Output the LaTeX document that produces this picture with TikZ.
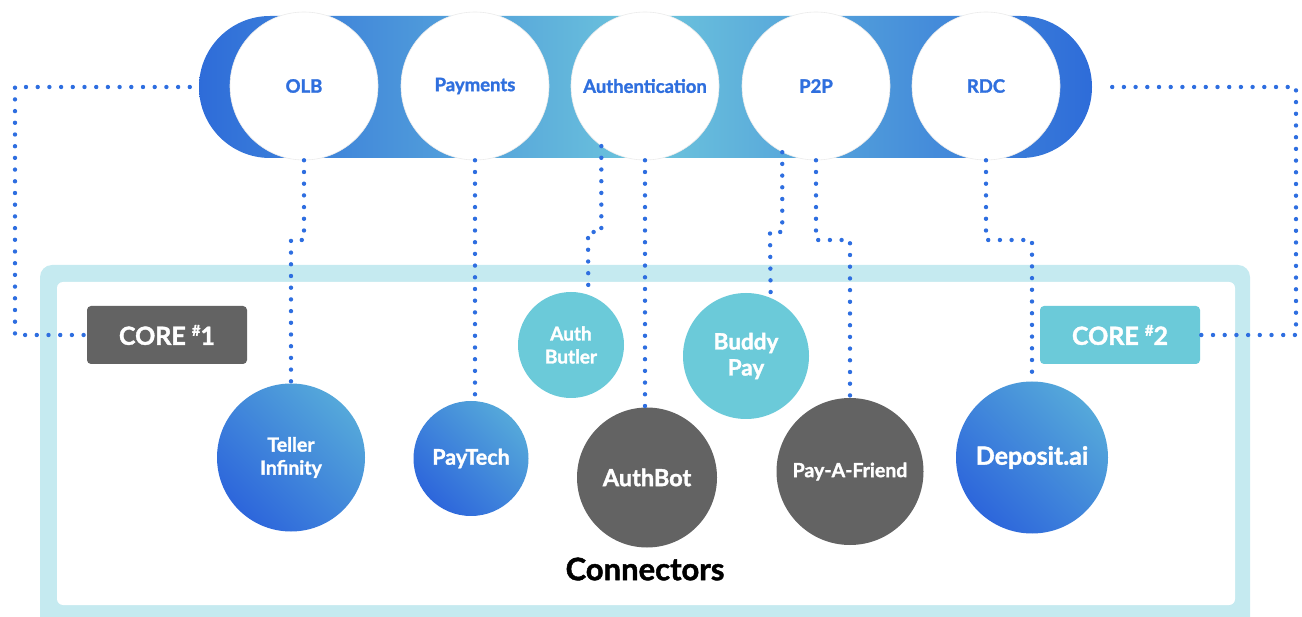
\documentclass[tikz,border=0pt]{standalone}
\usepackage{fontspec}
\setmainfont{Lato}[BoldFeatures={FakeBold=1.5}]
\definecolor{darkb}{HTML}{2E6CD9}
\definecolor{bandmid}{HTML}{6DC5DC}
\definecolor{lightb}{HTML}{55A8DA}
\definecolor{circdark}{HTML}{2D66DB}
\definecolor{cyanc}{HTML}{6BCAD9}
\definecolor{greyc}{HTML}{636363}
\definecolor{framec}{HTML}{C5EAF0}
\definecolor{dotblue}{HTML}{2E6EE0}
\definecolor{labelblue}{HTML}{2F6FDE}
\begin{document}
\begin{tikzpicture}[x=1pt,y=-1pt,
  dots/.style={draw=dotblue, line width=4.4pt, line cap=round, dash pattern=on 0pt off 11.7pt},
  band/.style={rectangle, rounded corners=71pt, minimum width=893pt, minimum height=142pt, inner sep=0pt,
    left color=darkb, right color=darkb, middle color=bandmid},
  topcirc/.style={circle, fill=white, draw=black!8, line width=0.6pt, minimum size=148pt, inner sep=0pt,
    text=labelblue, font=\bfseries\fontsize{18.5}{22}\selectfont},
  bluecirc/.style={circle, inner sep=0pt, top color=lightb, bottom color=circdark, shading angle=-45,
    text=white, align=center},
  flatcirc/.style={circle, inner sep=0pt, text=white, align=center},
  corebox/.style={rectangle, rounded corners=4pt, minimum width=160pt, minimum height=58pt, inner sep=0pt,
    text=white, font=\bfseries\fontsize{25}{28}\selectfont}
]
\useasboundingbox (0,0) rectangle (1302,617);
% frame
\fill[framec, rounded corners=12pt] (40,265) rectangle (1250,640);
\fill[white, rounded corners=6pt] (57,282) rectangle (1235,605);
% band
\node[band] (band) at (645.5,87) {};
\node[topcirc] (olb) at (304,86) {OLB};
\node[topcirc] (pay) at (475,86) {Payments};
\node[topcirc] (auth) at (645,86) {Authentication};
\node[topcirc] (p2p) at (816,86) {P2P};
\node[topcirc] (rdc) at (986,86) {RDC};
% cores
\node[corebox, fill=greyc] (core1) at (167,335) {CORE {\raisebox{0.36em}{\fontsize{15}{15}\selectfont\#}}1};
\node[corebox, fill=cyanc] (core2) at (1120,335) {CORE {\raisebox{0.36em}{\fontsize{15}{15}\selectfont\#}}2};
% connector circles
\node[bluecirc, minimum size=148pt, font=\bfseries\fontsize{19.5}{23}\selectfont] (teller) at (291,457.5) {Teller\\Infinity};
\node[bluecirc, minimum size=115pt, font=\bfseries\fontsize{21.5}{24}\selectfont] (paytech) at (471,458.5) {PayTech};
\node[flatcirc, fill=cyanc, minimum size=106pt, font=\bfseries\fontsize{19}{23}\selectfont] (butler) at (571,345) {Auth\\Butler};
\node[flatcirc, fill=greyc, minimum size=140pt, font=\bfseries\fontsize{23.5}{27}\selectfont] (authbot) at (647,477.5) {AuthBot};
\node[flatcirc, fill=cyanc, minimum size=126pt, font=\bfseries\fontsize{22.5}{26}\selectfont] (buddy) at (746,356) {Buddy\\Pay};
\node[flatcirc, fill=greyc, minimum size=147pt, font=\bfseries\fontsize{19.5}{22}\selectfont] (friend) at (850,471.5) {Pay-A-Friend};
\node[bluecirc, minimum size=152pt, font=\bfseries\fontsize{25}{28}\selectfont] (deposit) at (1032,457.5) {Deposit.ai};
\node[font=\bfseries\fontsize{31}{34}\selectfont, text=black] (title) at (645,569) {Connectors};
% bend points
\coordinate (b0) at (291,240);
\coordinate (b1) at (588,232);
\coordinate (b2) at (770,232);
\coordinate (b3) at (850,240);
\coordinate (b4) at (1032,240);
\coordinate (c1) at (15,335);
\coordinate (c2) at (1296,335);
% connectors
\draw[dots] ([xshift=-9pt]band.west) -| (c1) -- (core1.west);
\draw[dots] ([xshift=20pt]band.east) -| (c2) -- (core2.east);
\draw[dots] (olb.south) |- (b0) -- (teller.north);
\draw[dots] (pay.south) -- (pay.south |- paytech.north);
\draw[dots] (auth.234.5) |- (b1) -- (butler.71);
\draw[dots] (auth.south) -- (auth.south |- authbot.north);
\draw[dots] (p2p.243.5) |- (b2) -- (buddy.67.6);
\draw[dots] (p2p.south) |- (b3) -- (friend.north);
\draw[dots] (rdc.south) |- (b4) -- (deposit.north);
\end{tikzpicture}
\end{document}
